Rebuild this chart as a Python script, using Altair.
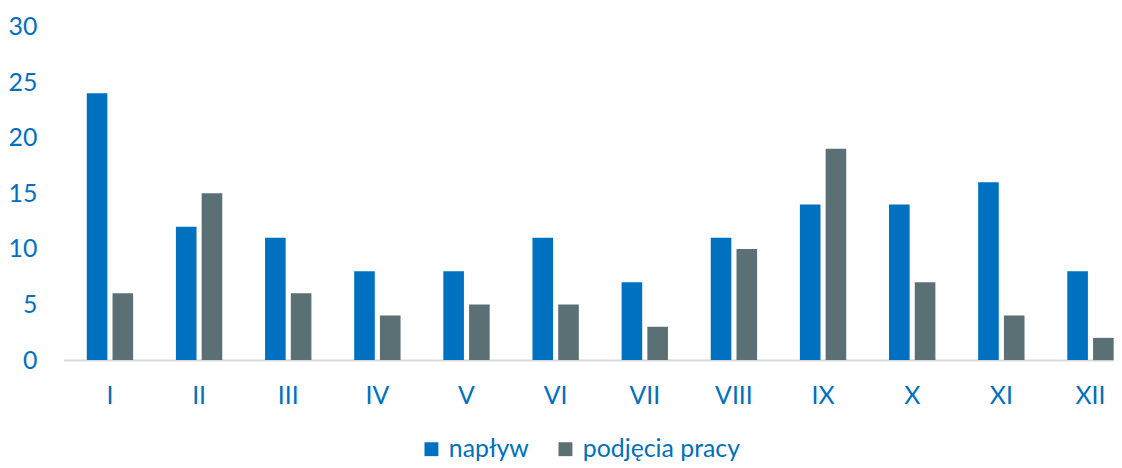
import altair as alt
import pandas as pd

months = ["I", "II", "III", "IV", "V", "VI", "VII", "VIII", "IX", "X", "XI", "XII"]
naplyw = [24, 12, 11, 8, 8, 11, 7, 11, 14, 14, 16, 8]
podjecia = [6, 15, 6, 4, 5, 5, 3, 10, 19, 7, 4, 2]
series = ["napływ", "podjęcia pracy"]
colors = ["#0070C0", "#5B7075"]

rows = []
for i, m in enumerate(months):
    rows.append({"m": m, "s": series[0], "v": naplyw[i]})
    rows.append({"m": m, "s": series[1], "v": podjecia[i]})
df = pd.DataFrame(rows)

FONT = "Lato"
TXT = "#0070C0"

chart = alt.Chart(df).mark_bar().encode(
    x=alt.X("m:N", sort=months, title=None,
            scale=alt.Scale(paddingInner=0.48, paddingOuter=0.26, range=[0, 1081]),
            axis=alt.Axis(labelAngle=0, ticks=False, domainColor="#D9D9D9", domainWidth=2,
                          labelPadding=24, labelFontSize=25, labelColor=TXT, labelFont=FONT)),
    xOffset=alt.XOffset("s:N", sort=series, scale=alt.Scale(paddingInner=0.2)),
    y=alt.Y("v:Q", title=None,
            scale=alt.Scale(domain=[0, 30], nice=False),
            axis=alt.Axis(values=[0, 5, 10, 15, 20, 25, 30], grid=False, ticks=False, domain=False,
                          labelPadding=27, labelFontSize=25, labelColor=TXT, labelFont=FONT)),
    color=alt.Color("s:N", sort=series, title=None,
                    scale=alt.Scale(domain=series, range=colors),
                    legend=alt.Legend(orient="none", direction="horizontal", legendX=358, legendY=413,
                                      symbolType="square", symbolSize=196, symbolStrokeWidth=0,
                                      labelFontSize=25, labelColor=TXT, labelFont=FONT,
                                      labelOffset=5, columnPadding=24)),
).properties(
    width=1058, height=336,
    autosize=alt.AutoSizeParams(type="none"),
    padding={"left": 56, "top": 17, "right": 0, "bottom": 100},
).configure_view(stroke=None)

chart.save("out.html", embed_options={"renderer": "svg", "actions": False})
